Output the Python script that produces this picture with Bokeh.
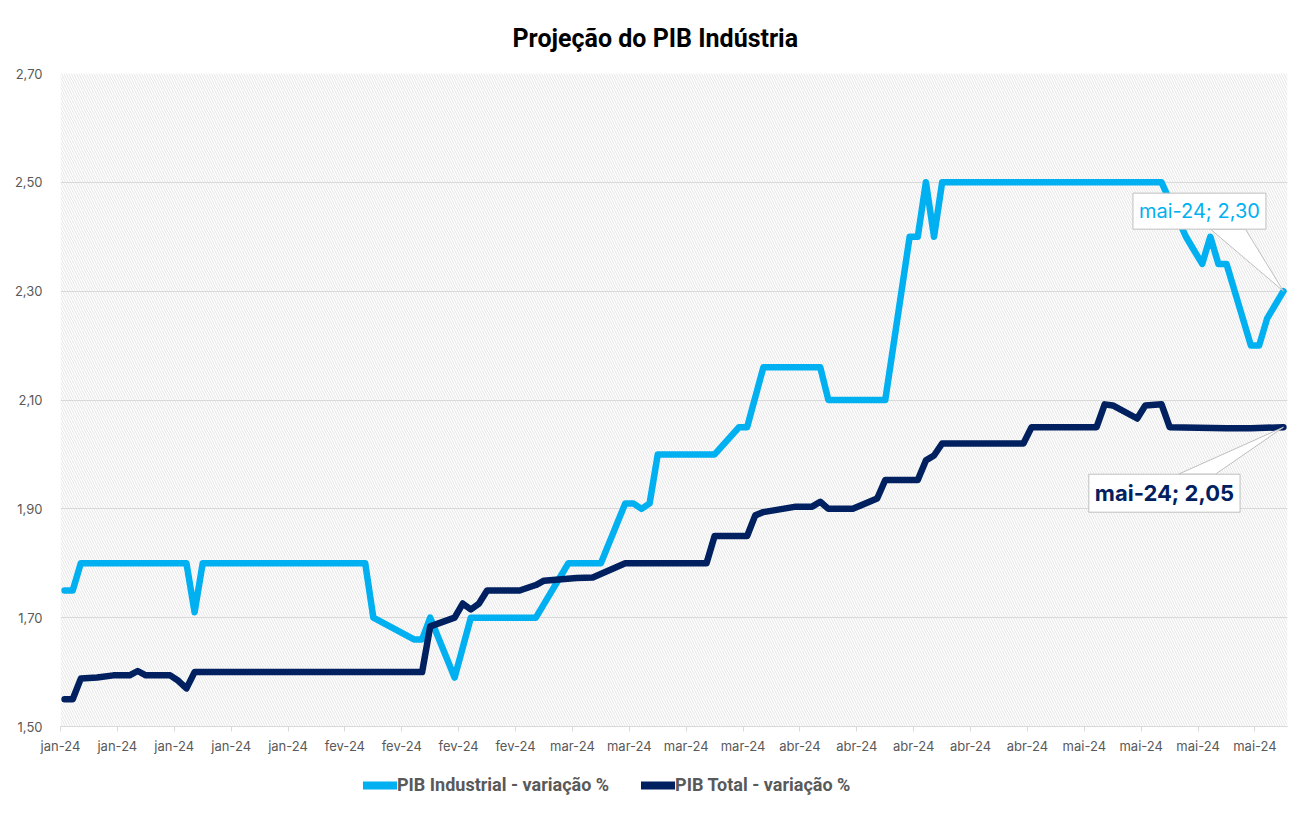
import pandas as pd
from bokeh.plotting import figure
from bokeh.layouts import column
from bokeh.models import (Range1d, FixedTicker, CustomJSTickFormatter, BoxAnnotation,
                          Label, Legend, LegendItem, ColumnDataSource)
from bokeh.embed import file_html
from bokeh.resources import INLINE

# ---------------- data ----------------
TITLE = "Projeção do PIB Indústria"
IND_NAME = "PIB Industrial - variação %"
TOT_NAME = "PIB Total - variação %"
MONTHS_PT = ["jan", "fev", "mar", "abr", "mai", "jun", "jul", "ago", "set", "out", "nov", "dez"]
Y_TICKS = [1.50, 1.70, 1.90, 2.10, 2.30, 2.50, 2.70]

IND_DATES = ["2024-01-02", "2024-01-03", "2024-01-04", "2024-01-17", "2024-01-18", "2024-01-19",
             "2024-02-08", "2024-02-09", "2024-02-14", "2024-02-15", "2024-02-16", "2024-02-19",
             "2024-02-21", "2024-02-29", "2024-03-04", "2024-03-08", "2024-03-11", "2024-03-12",
             "2024-03-13", "2024-03-14", "2024-03-15", "2024-03-22", "2024-03-25", "2024-03-26",
             "2024-03-28", "2024-04-04", "2024-04-05", "2024-04-12", "2024-04-15", "2024-04-16",
             "2024-04-17", "2024-04-18", "2024-04-19", "2024-05-16", "2024-05-19", "2024-05-21",
             "2024-05-22", "2024-05-23", "2024-05-24", "2024-05-27", "2024-05-28", "2024-05-29",
             "2024-05-31"]
IND_VALUES = [1.75, 1.75, 1.80, 1.80, 1.71, 1.80,
              1.80, 1.70, 1.66, 1.66, 1.70, 1.59,
              1.70, 1.70, 1.80, 1.80, 1.91, 1.91,
              1.90, 1.91, 2.00, 2.00, 2.05, 2.05,
              2.16, 2.16, 2.10, 2.10, 2.40, 2.40,
              2.50, 2.40, 2.50, 2.50, 2.40, 2.35,
              2.40, 2.35, 2.35, 2.20, 2.20, 2.25,
              2.30]

TOT_DATES = ["2024-01-02", "2024-01-03", "2024-01-04", "2024-01-06", "2024-01-08", "2024-01-10",
             "2024-01-11", "2024-01-12", "2024-01-15", "2024-01-16", "2024-01-17", "2024-01-18",
             "2024-02-15", "2024-02-16", "2024-02-19", "2024-02-20", "2024-02-21", "2024-02-22",
             "2024-02-23", "2024-02-27", "2024-02-29", "2024-03-01", "2024-03-05", "2024-03-07",
             "2024-03-11", "2024-03-21", "2024-03-22", "2024-03-26", "2024-03-27", "2024-03-28",
             "2024-04-01", "2024-04-03", "2024-04-04", "2024-04-05", "2024-04-08", "2024-04-11",
             "2024-04-12", "2024-04-16", "2024-04-17", "2024-04-18", "2024-04-19", "2024-04-29",
             "2024-04-30", "2024-05-08", "2024-05-09", "2024-05-10", "2024-05-13", "2024-05-14",
             "2024-05-16", "2024-05-17", "2024-05-24", "2024-05-27", "2024-05-31"]
TOT_VALUES = [1.55, 1.55, 1.588, 1.59, 1.594, 1.594,
              1.602, 1.594, 1.594, 1.584, 1.57, 1.60,
              1.60, 1.684, 1.70, 1.726, 1.715, 1.726,
              1.75, 1.75, 1.76, 1.768, 1.773, 1.774,
              1.80, 1.80, 1.85, 1.85, 1.888, 1.894,
              1.904, 1.904, 1.913, 1.90, 1.90, 1.919,
              1.953, 1.953, 1.989, 1.998, 2.02, 2.02,
              2.05, 2.05, 2.092, 2.09, 2.066, 2.09,
              2.092, 2.05, 2.048, 2.048, 2.05]

assert len(IND_DATES) == len(IND_VALUES)
assert len(TOT_DATES) == len(TOT_VALUES)

# ---------------- styling ----------------
C_IND = "#00B0F0"
C_TOT = "#002060"
GREY_TXT = "#595959"
GRID = "#d9d9d9"
LW = 6.5

W, H = 1290, 760
ML, MR, MT, MB = 60, 3, 73, 34
H_LEG = 52

ind_x = pd.to_datetime(IND_DATES)
tot_x = pd.to_datetime(TOT_DATES)
ind = ColumnDataSource(dict(x=ind_x, y=IND_VALUES))
tot = ColumnDataSource(dict(x=tot_x, y=TOT_VALUES))

first = min(ind_x.min(), tot_x.min())
last = max(ind_x.max(), tot_x.max())
half = pd.Timedelta(hours=12)
x0, x1 = first - half, last + half


def ms(t):
    return t.value / 1e6


p = figure(width=W, height=H, x_axis_type="datetime",
           x_range=Range1d(ms(x0), ms(x1)), y_range=Range1d(Y_TICKS[0], Y_TICKS[-1]),
           output_backend="svg", toolbar_location=None,
           min_border_left=ML, min_border_right=MR, min_border_top=MT, min_border_bottom=MB)
p.outline_line_color = None
p.background_fill_color = "white"
p.border_fill_color = "white"

# title
p.title.text = TITLE
p.title.align = "left"
p.title.offset = 452
p.title.text_font = "Roboto"
p.title.text_font_size = "25px"
p.title.text_font_style = "bold"
p.title.text_color = "#000000"
p.title.standoff = 42

# hatched plot background
hatch = BoxAnnotation(fill_color=None, line_color=None, hatch_pattern="\\",
                      hatch_color="#dedede", hatch_scale=5, hatch_weight=0.8, level="image")
p.add_layout(hatch)

# axes
n_weeks = int((x1 - x0) / pd.Timedelta(days=7))
x_ticks = [ms(x0 + pd.Timedelta(days=7 * k)) for k in range(n_weeks + 1)]
p.xaxis.ticker = FixedTicker(ticks=x_ticks)
p.xaxis.formatter = CustomJSTickFormatter(args=dict(m=MONTHS_PT), code="""
const d = new Date(tick);
return m[d.getUTCMonth()] + '-' + String(d.getUTCFullYear()).slice(2);
""")
p.xaxis.axis_line_color = GRID
p.xaxis.major_tick_line_color = GRID
p.xaxis.major_tick_out = 5
p.xaxis.major_tick_in = 0
p.xaxis.minor_tick_line_color = None
p.xaxis.major_label_standoff = 6

p.yaxis.ticker = FixedTicker(ticks=Y_TICKS)
p.yaxis.formatter = CustomJSTickFormatter(code="return tick.toFixed(2).replace('.', ',');")
p.yaxis.axis_line_color = None
p.yaxis.major_tick_line_color = None
p.yaxis.minor_tick_line_color = None
p.yaxis.major_label_standoff = 12

for ax in (p.xaxis, p.yaxis):
    ax.major_label_text_font = "Inter"
    ax.major_label_text_font_size = "13px"
    ax.major_label_text_color = GREY_TXT

p.xgrid.grid_line_color = None
p.ygrid.grid_line_color = GRID
p.ygrid.grid_line_width = 1

# series
r1 = p.line("x", "y", source=ind, line_color=C_IND, line_width=LW,
            line_join="round", line_cap="round")
r2 = p.line("x", "y", source=tot, line_color=C_TOT, line_width=LW,
            line_join="round", line_cap="round")

# callouts for last values
fw = W - ML - MR
fh = H - MT - MB
px_per_ms = fw / (ms(x1) - ms(x0))
px_per_unit = fh / (Y_TICKS[-1] - Y_TICKS[0])


def fmt_label(t, v):
    return f"{MONTHS_PT[t.month - 1]}-{t:%y}; {v:.2f}".replace(".", ",")


def callout(t, v, tri, box_off, color, size, style):
    xs = [ms(t) + dx / px_per_ms for dx, dy in tri]
    ys = [v + dy / px_per_unit for dx, dy in tri]
    p.patch(xs, ys, fill_color="white", line_color="#bfbfbf", line_width=1)
    p.add_layout(Label(x=ms(t), y=v, x_offset=box_off[0], y_offset=box_off[1],
                       text=fmt_label(t, v), text_align="center", text_baseline="middle",
                       text_font="Inter", text_font_size=size, text_font_style=style,
                       text_color=color, background_fill_color="white",
                       border_line_color="#bfbfbf", border_line_width=1, padding=6))


callout(ind_x[-1], IND_VALUES[-1], [(-73, 62), (-38, 62), (0, 0)], (-84, 80),
        C_IND, "20px", "normal")
callout(tot_x[-1], TOT_VALUES[-1], [(-105, -47), (-68, -47), (0, 0)], (-119, -66),
        C_TOT, "22px", "bold")

# legend strip below the chart: same series drawn out of view, only the legend shows
pl = figure(width=W, height=H_LEG, x_range=Range1d(0, 1), y_range=Range1d(0, 1),
            x_axis_location=None, y_axis_location=None,
            output_backend="svg", toolbar_location=None, min_border=0)
pl.grid.visible = False
pl.outline_line_color = None
pl.border_fill_color = "white"
pl.background_fill_color = "white"
l1 = pl.line("x", "y", source=ind, line_color=C_IND, line_width=LW + 1.5, line_cap="round")
l2 = pl.line("x", "y", source=tot, line_color=C_TOT, line_width=LW + 1.5, line_cap="round")
legend = Legend(items=[LegendItem(label=IND_NAME, renderers=[l1]),
                       LegendItem(label=TOT_NAME, renderers=[l2])],
                orientation="horizontal", location=(303, 17),
                glyph_width=34, glyph_height=20, label_standoff=0, spacing=32,
                padding=2, margin=0,
                border_line_color=None, background_fill_color=None,
                label_text_font="Roboto", label_text_font_size="18px",
                label_text_font_style="bold", label_text_color=GREY_TXT)
pl.add_layout(legend)

open("out.html", "w").write(file_html(column(p, pl, spacing=0), INLINE))
